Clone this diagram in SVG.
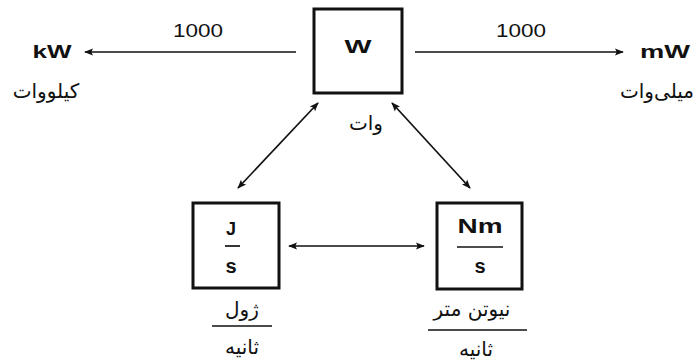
<svg xmlns="http://www.w3.org/2000/svg" width="698" height="364" viewBox="0 0 698 364">
<defs>
<marker id="ah" viewBox="0 0 10 10" refX="9" refY="5" markerWidth="9" markerHeight="9" markerUnits="userSpaceOnUse" orient="auto-start-reverse">
<path d="M0,1 L10,5 L0,9 L2,5 Z" fill="#111"/>
</marker>
<style>
.box{fill:#fff;stroke:#111;stroke-width:3}
.ln{stroke:#111;stroke-width:1.7;fill:none}
.u{font-family:"Liberation Sans",Arial,sans-serif;font-weight:bold;fill:#111}
.n{font-family:"Liberation Sans",Arial,sans-serif;font-size:19px;fill:#111}
.ar{font-family:"DejaVu Sans",sans-serif;font-size:20px;fill:#111}
</style>
</defs>
<g id="connectors">
<line class="ln" x1="296" y1="52" x2="85" y2="52" marker-end="url(#ah)"/>
<line class="ln" x1="415" y1="52" x2="623" y2="52" marker-end="url(#ah)"/>
<line class="ln" x1="318" y1="103" x2="238" y2="188" marker-start="url(#ah)" marker-end="url(#ah)"/>
<line class="ln" x1="392" y1="103" x2="470" y2="188" marker-start="url(#ah)" marker-end="url(#ah)"/>
<line class="ln" x1="289" y1="246" x2="424" y2="246" marker-start="url(#ah)" marker-end="url(#ah)"/>
<text class="n" x="198" y="37" text-anchor="middle" textLength="50" lengthAdjust="spacingAndGlyphs">1000</text>
<text class="n" x="521" y="37" text-anchor="middle" textLength="50" lengthAdjust="spacingAndGlyphs">1000</text>
</g>
<g id="node-w">
<rect class="box" x="314" y="9" width="88" height="84"/>
<text class="u" x="358" y="53" font-size="18" text-anchor="middle" textLength="27" lengthAdjust="spacingAndGlyphs">W</text>
<text class="ar" x="366" y="130" text-anchor="middle" direction="rtl">وات</text>
</g>
<g id="node-kw">
<text class="u" x="52" y="58" font-size="18" text-anchor="middle" textLength="39" lengthAdjust="spacingAndGlyphs">kW</text>
<text class="ar" x="46" y="98" text-anchor="middle" direction="rtl">کیلووات</text>
</g>
<g id="node-mw">
<text class="u" x="665" y="58" font-size="18" text-anchor="middle" textLength="50" lengthAdjust="spacingAndGlyphs">mW</text>
<text class="ar" x="657" y="98" text-anchor="middle" direction="rtl" font-size="18">میلی‌وات</text>
</g>
<g id="node-js">
<rect class="box" x="193" y="203" width="86" height="85"/>
<text class="u" x="231" y="235" font-size="18" text-anchor="middle">J</text>
<line class="ln" x1="225" y1="246" x2="240" y2="246"/>
<text class="u" x="231" y="273" font-size="20" text-anchor="middle">s</text>
<text class="ar" x="242" y="316" text-anchor="middle" direction="rtl">ژول</text>
<line class="ln" x1="212" y1="326" x2="272" y2="326"/>
<text class="ar" x="242" y="354" text-anchor="middle" direction="rtl">ثانیه</text>
</g>
<g id="node-nms">
<rect class="box" x="437" y="203" width="85" height="86"/>
<text class="u" x="480" y="233" font-size="20" text-anchor="middle" textLength="45" lengthAdjust="spacingAndGlyphs">Nm</text>
<line class="ln" x1="457" y1="247" x2="503" y2="247"/>
<text class="u" x="480" y="273" font-size="20" text-anchor="middle">s</text>
<text class="ar" x="472" y="316" text-anchor="middle" direction="rtl">نیوتن متر</text>
<line class="ln" x1="428" y1="330" x2="527" y2="330"/>
<text class="ar" x="476" y="356" text-anchor="middle" direction="rtl">ثانیه</text>
</g>
</svg>
